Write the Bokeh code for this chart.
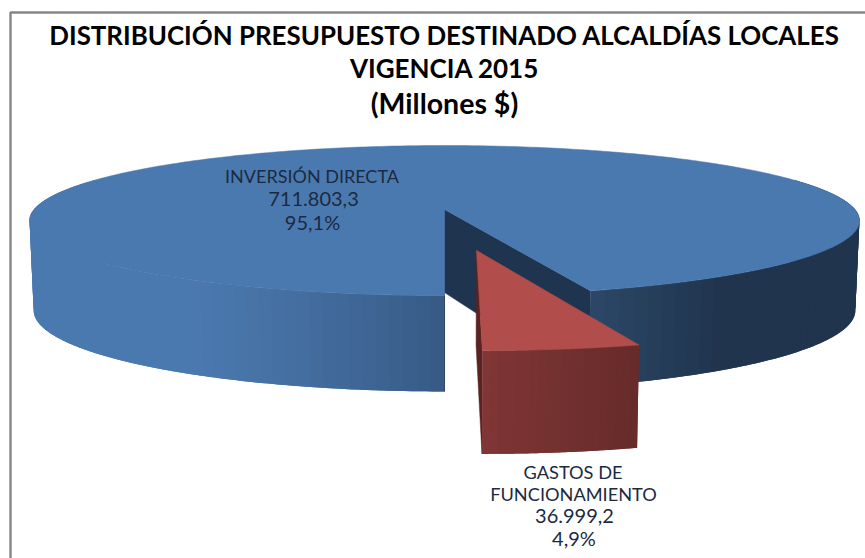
import numpy as np
from bokeh.core.properties import value
from bokeh.embed import file_html
from bokeh.models import Range1d
from bokeh.plotting import figure
from bokeh.resources import INLINE

title_lines = ["DISTRIBUCIÓN PRESUPUESTO DESTINADO ALCALDÍAS LOCALES", "VIGENCIA 2015", "(Millones $)"]
categories = ["INVERSIÓN DIRECTA", "GASTOS DE FUNCIONAMIENTO"]
amounts = [711803.3, 36999.2]
amount_labels = ["711.803,3", "36.999,2"]
percent_labels = ["95,1%", "4,9%"]

# projection of the tilted 3D pie
CX, CY, R, RY, K = 444.0, 209.0, 410.5, 73.4, 0.147
H, FX, FY = 89.0, 0.99, 1.08
EXPLODE = 0.51
RED_SCALE = 0.985
RED_EXTRA_DEPTH = 3.0
HUB_LIFT = 6.0


def project(u, v, low=False, extra=0.0):
    u, v = np.asarray(u, float), np.asarray(v, float)
    s = 1 / (1 - K * v)
    if low:
        return CX + R * u * s * FX, CY + H + extra + RY * v * s * FY
    return CX + R * u * s, CY + RY * v * s


def rim(theta, du=0.0, dv=0.0, scale=1.0):
    return scale * np.sin(theta) + du, scale * np.cos(theta) + dv


def hexmix(t, stops_t, stops_rgb):
    rgb = [np.interp(t, stops_t, [c[i] for c in stops_rgb]) for i in range(3)]
    return "#%02x%02x%02x" % tuple(int(round(c)) for c in rgb)


total = sum(amounts)
sweep = 2 * np.pi * amounts[1] / total

p = figure(width=865, height=558, output_backend="svg", toolbar_location=None,
           x_range=Range1d(0, 865), y_range=Range1d(558, 0),
           x_axis_type=None, y_axis_type=None, min_border=0,
           outline_line_color=None, background_fill_color="white")
p.grid.visible = False

# chart frame
p.line([10, 10, 865], [558, 12, 12], line_color="#868686", line_width=2.4)


def wall(th0, th1, du, dv, stops_x, stops_rgb, n=40, scale=1.0, extra=0.0):
    # each band reaches over the next one, which is drawn on top: no seams
    th = np.linspace(th0, th1, n + 1)
    for i in range(n):
        seg = np.linspace(th[i], th[min(i + 2, n)], 6)
        ua, va = rim(seg, du, dv, scale)
        xt, yt = project(ua, va)
        xl, yl = project(ua[::-1], va[::-1], low=True, extra=extra)
        mid = project(*rim(np.array([(th[i] + th[i + 1]) / 2]), du, dv, scale))[0][0]
        col = hexmix(mid, stops_x, stops_rgb)
        p.patch(np.r_[xt, xl], np.r_[yt, yl], fill_color=col, line_color=None)


def cut_face(theta, du, dv, col, scale=1.0, extra=0.0, lift=0.0):
    ur, vr = rim(theta, du, dv, scale)
    xt, yt = project([du, ur], [dv, vr])
    xl, yl = project([ur, du], [vr, dv], low=True, extra=extra)
    yl = yl.copy()
    yl[1] -= lift
    p.patch(np.r_[xt, xl], np.r_[yt, yl], fill_color=col, line_color=col, line_width=0.5)


# blue slice
navy = "#1f344f"
top_rgb = (74, 121, 176)
cut_face(sweep, 0, 0, navy, lift=HUB_LIFT)
wall(sweep, np.radians(115), 0, 0, [585, 720, 870], [(44, 72, 104), (32, 52, 78), (32, 52, 78)], n=50)
wall(np.radians(245), 2 * np.pi, 0, 0, [25, 190, 300, 445],
     [top_rgb, top_rgb, (68, 110, 160), (55, 90, 133)], n=70)
cut_face(2 * np.pi, 0, 0, navy, lift=HUB_LIFT)
th = np.linspace(sweep, 2 * np.pi, 400)
ub, vb = rim(th)
xb, yb = project(np.r_[0, ub], np.r_[0, vb])
p.patch(xb, yb, fill_color="#4a79b0", line_color="#4a79b0", line_width=0.5)

# red slice, pulled out along its bisector
du, dv = EXPLODE * np.sin(sweep / 2) - 0.007, EXPLODE * np.cos(sweep / 2) + 0.01
cut_face(0.0, du, dv, "#5a2322", scale=RED_SCALE, extra=RED_EXTRA_DEPTH)
wall(0.0, sweep, du, dv, [480, 640], [(128, 54, 53), (102, 43, 42)], n=20, scale=RED_SCALE, extra=RED_EXTRA_DEPTH)
th = np.linspace(0.0, sweep, 40)
ur, vr = rim(th, du, dv, RED_SCALE)
xr, yr = project(np.r_[du, ur], np.r_[dv, vr])
p.patch(xr, yr, fill_color="#b14d4a", line_color="#b14d4a", line_width=0.5)

# texts
ink = "#1c2a40"
for txt, y, size in zip(title_lines, [34, 67, 102], ["25.9px", "26px", "28.5px"]):
    p.text([444], [y], text=[txt], text_font=value("Lato"), text_font_style="bold",
           text_font_size=size, text_align="center", text_baseline="middle", text_color="#000000")

rows_a = [(categories[0], 311.5, 175.5, "18px"), (amount_labels[0], 313, 198.5, "20px"), (percent_labels[0], 312, 221.5, "20px")]
rows_b = [("GASTOS DE", 572.5, 471.5, "18.2px"), ("FUNCIONAMIENTO", 573, 493.5, "18.2px"),
          (amount_labels[1], 574, 515.5, "20px"), (percent_labels[1], 573.5, 537.5, "20px")]
for line, x, y, size in rows_a + rows_b:
    p.text([x], [y], text=[line], text_font=value("Lato"), text_font_size=size,
           text_align="center", text_baseline="middle", text_color=ink)

open("out.html", "w").write(file_html(p, INLINE))
